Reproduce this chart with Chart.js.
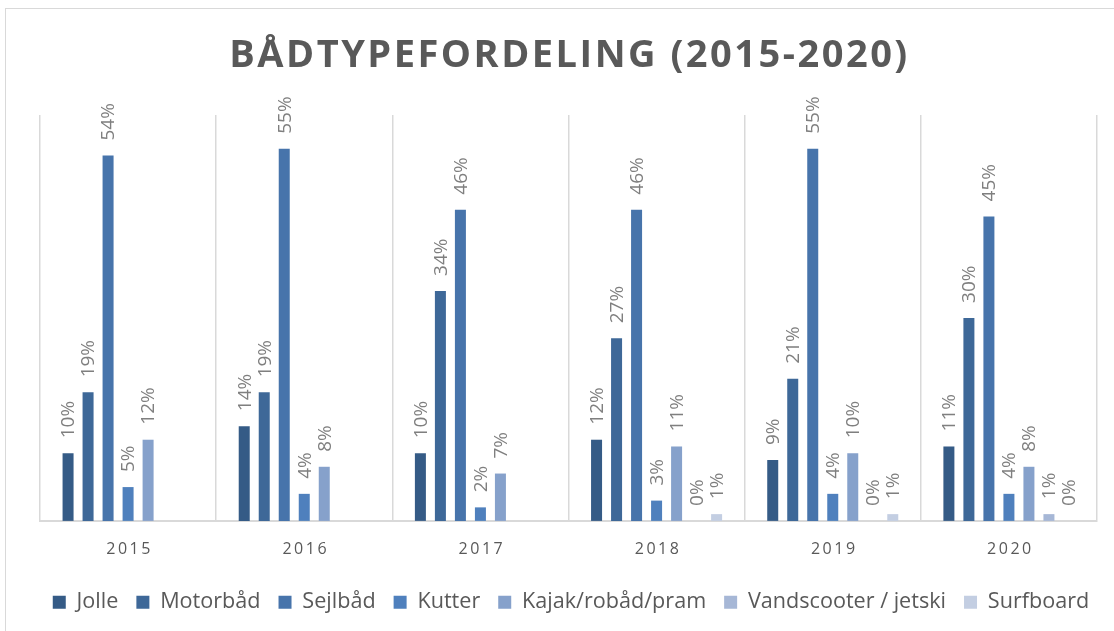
<!DOCTYPE html>
<html lang="da">
<head>
  <meta charset="UTF-8">
  <title>Bådtypefordeling</title>
  <style>
    body {
      margin: 0;
      background-color: #fff;
      overflow: hidden;
    }

    #ramme {
      position: absolute;
      left: 5px;
      top: 8px;
      width: 1130px;
      height: 650px;
      border: 1.5px solid #d9d9d9;
    }

    #wrap {
      position: absolute;
      left: 0;
      top: 0;
      width: 1114px;
      height: 631px;
    }
  </style>
  <script src="https://cdn.jsdelivr.net/npm/chart.js"></script>
</head>
<body>

  <div id="ramme"></div>
  <div id="wrap"><canvas id="grafico"></canvas></div>

  <script>
    const titel = 'BÅDTYPEFORDELING (2015-2020)';
    const aar = ['2015', '2016', '2017', '2018', '2019', '2020'];

    // andel i procent pr. år
    const jolle       = [10, 14, 10, 12, 9, 11];
    const motorbaad   = [19, 19, 34, 27, 21, 30];
    const sejlbaad    = [54, 55, 46, 46, 55, 45];
    const kutter      = [5, 4, 2, 3, 4, 4];
    const kajak       = [12, 8, 7, 11, 10, 8];
    const vandscooter = [null, null, null, 0, 0, 1];
    const surfboard   = [null, null, null, 1, 1, 0];

    const serier = [
      { navn: 'Jolle', data: jolle, farve: '#355b86' },
      { navn: 'Motorbåd', data: motorbaad, farve: '#3e6898' },
      { navn: 'Sejlbåd', data: sejlbaad, farve: '#4774ab' },
      { navn: 'Kutter', data: kutter, farve: '#4f80bd' },
      { navn: 'Kajak/robåd/pram', data: kajak, farve: '#86a1cb' },
      { navn: 'Vandscooter / jetski', data: vandscooter, farve: '#a6b7d6' },
      { navn: 'Surfboard', data: surfboard, farve: '#c3cee2' }
    ];

    // tegner titel, årstal og procent-labels (med tegnafstand som i Excel)
    const tekstPlugin = {
      id: 'tekst',
      afterDraw(chart) {
        const ctx = chart.ctx;
        const area = chart.chartArea;
        const xAkse = chart.scales.x;

        ctx.save();

        // procent over hver søjle, drejet 90 grader
        ctx.font = '19px "Open Sans"';
        ctx.fillStyle = '#7f7f7f';
        ctx.textAlign = 'left';
        ctx.textBaseline = 'middle';
        chart.data.datasets.forEach((ds, i) => {
          chart.getDatasetMeta(i).data.forEach((bar, j) => {
            const v = ds.data[j];
            if (v === null || v === undefined) return;
            ctx.save();
            ctx.translate(bar.x + 1, bar.y - 15);
            ctx.rotate(-Math.PI / 2);
            ctx.fillText(v + '%', 0, 0);
            ctx.restore();
          });
        });

        // årstal under akse
        ctx.font = '16px "Open Sans"';
        ctx.fillStyle = '#595959';
        ctx.textAlign = 'center';
        ctx.letterSpacing = '2.5px';
        aar.forEach((a, i) => {
          ctx.fillText(a, xAkse.getPixelForTick(i) + 1.5, area.bottom + 29);
        });

        // titel
        ctx.font = 'bold 38px "Open Sans"';
        ctx.letterSpacing = '2.5px';
        ctx.fillText(titel, (area.left + area.right) / 2 + 1, 56);

        ctx.restore();
      }
    };

    // usynlige akser som kun giver luft i siderne
    const luft = w => ({
      display: true,
      ticks: { display: false },
      grid: { display: false },
      border: { display: false },
      afterFit(scale) {
        scale.width = w;
      }
    });

    const ctx = document.getElementById('grafico');

    new Chart(ctx, {
      type: 'bar',
      data: {
        labels: aar,
        datasets: serier.map(s => ({
          label: s.navn,
          data: s.data,
          backgroundColor: s.farve,
          borderWidth: 0,
          categoryPercentage: 0.795,
          barPercentage: 0.55
        }))
      },
      options: {
        responsive: true,
        maintainAspectRatio: false,
        animation: false,
        layout: {
          padding: { top: 115, left: 28, right: 0, bottom: 8 }
        },
        plugins: {
          title: { display: false },
          tooltip: { enabled: false },
          legend: {
            position: 'bottom',
            labels: {
              font: { family: 'Open Sans', size: 21.6 },
              color: '#595959',
              boxWidth: 13,
              boxHeight: 13,
              padding: 18
            }
          }
        },
        scales: {
          y: Object.assign(luft(12), { min: 0, max: 60 }),
          hoejre: Object.assign(luft(17), { position: 'right' }),
          x: {
            offset: true,
            grid: {
              offset: true,
              color: '#d9d9d9',
              lineWidth: 1.5,
              drawTicks: false
            },
            border: { color: '#d9d9d9', width: 2 },
            ticks: { display: false },
            afterFit(scale) {
              scale.height = 52.5;
            }
          }
        }
      },
      plugins: [tekstPlugin]
    });
  </script>
</body>
</html>
